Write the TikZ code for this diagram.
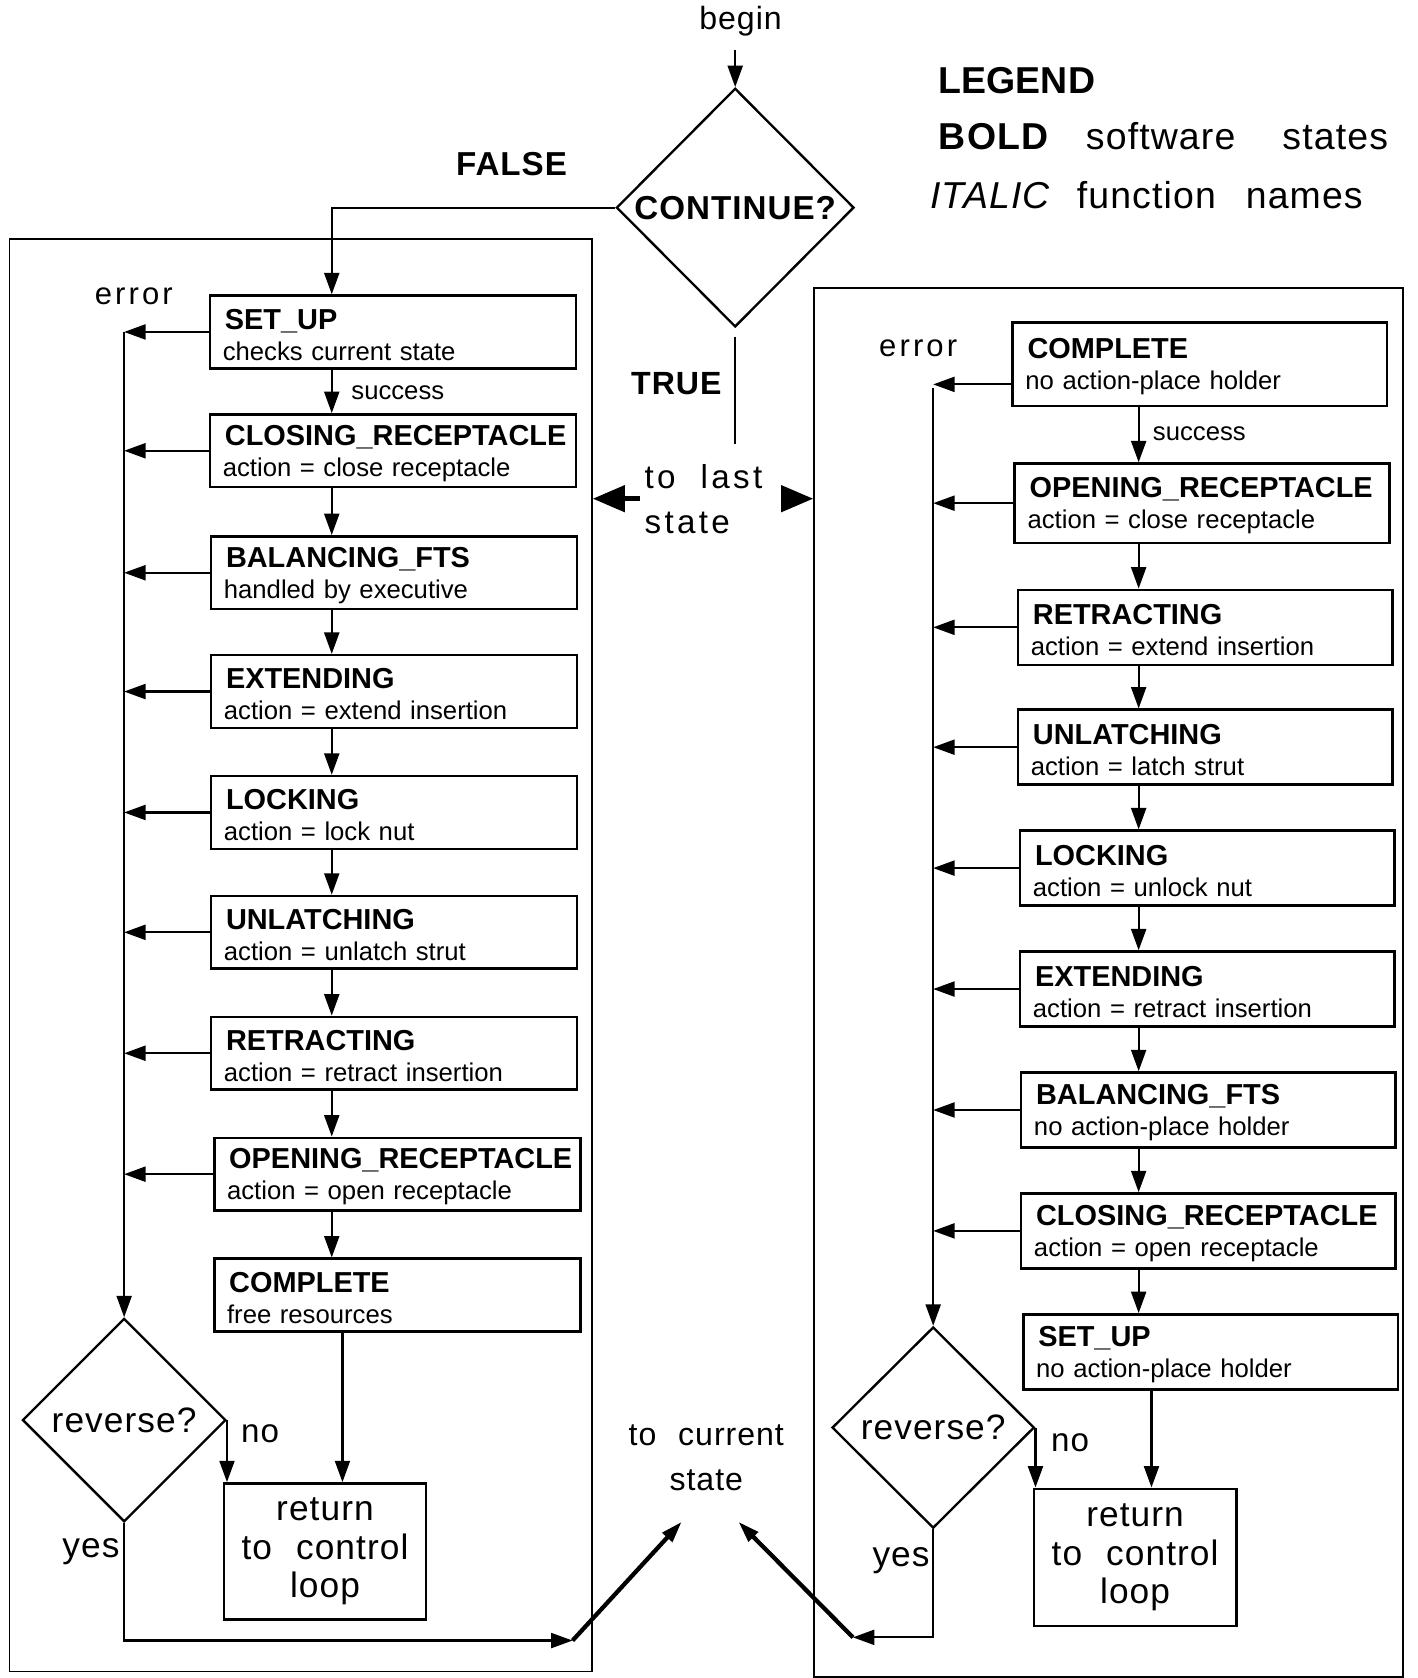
\documentclass[tikz,border=0pt]{standalone}
\usepackage{fontspec}
\setmainfont{Liberation Sans}[WordSpace=2.2]
\newfontfamily\lsA{Liberation Sans}[LetterSpace=10,WordSpace=2]
\newfontfamily\lsB{Liberation Sans}[LetterSpace=3,WordSpace=2.2]
\usetikzlibrary{arrows.meta,shapes.geometric}
\newcommand\stbox[2]{{\fontsize{13.5}{14.5}\selectfont\bfseries\mbox{\rule{0pt}{12pt}\hspace{1pt}#1}}\\{#2}}
\tikzset{
  arr/.style={-{Triangle[length=10pt,width=7pt]}, line width=1pt},
  bigarr/.style={-{Triangle[length=15pt,width=12pt]}, line width=2.5pt},
  thk/.style={-{Triangle[length=10pt,width=6pt]}, line width=2pt},
  frame/.style={draw, line width=0.9pt, anchor=north west, inner sep=0pt},
  lbox/.style={draw, line width=1.2pt, anchor=north west, minimum width=171pt,
     minimum height=34pt, text width=159pt, inner xsep=6pt, inner ysep=0pt,
     align=left, font=\fontsize{12}{14.5}\selectfont},
  rbox/.style={lbox, minimum width=175pt, minimum height=35pt, text width=163pt},
  dia/.style={draw, diamond, line width=1.1pt, inner sep=0pt},
  retbox/.style={draw, line width=1.2pt, anchor=north west, minimum width=94.5pt,
     minimum height=63.5pt, align=center, font=\lsB\fontsize{16.5}{18}\selectfont},
  lab/.style={inner sep=1pt, font=\lsB\fontsize{15.5}{18}\selectfont},
  blab/.style={inner sep=1pt, font=\lsB\fontsize{15.5}{18}\selectfont\bfseries},
  errlab/.style={inner sep=1pt, font=\lsA\fontsize{14.5}{18}\selectfont},
  suclab/.style={inner sep=1pt, anchor=west, font=\fontsize{12}{14}\selectfont},
}
\begin{document}
\begin{tikzpicture}[x=0.5pt,y=-0.5pt]
\useasboundingbox (0,0) rectangle (1325,1568);

% frames
\node[frame, minimum width=272pt, minimum height=669.5pt] (lframe) at (8,222) {};
\node[frame, minimum width=275pt, minimum height=649pt] (rframe) at (760,268) {};

% top decision
\node[lab, font=\lsB\fontsize{15}{18}\selectfont] (begin) at (692,20) {begin};
\node[dia, minimum width=111pt, minimum height=111.5pt,
  label={[blab]center:CONTINUE?}] (cont) at (687,194) {};
\draw[arr, shorten <=5pt] (begin.south -| cont.north) -- (cont.north);
\node[blab] (false) at (478,153) {FALSE};
\node[blab, font=\lsB\fontsize{15}{18}\selectfont\bfseries] (true) at (632,358) {TRUE};
\coordinate (tEnd) at (687,415);
\draw[line width=1pt, shorten <=4pt] (cont.south) -- (tEnd);

% legend
\node[anchor=west, inner sep=0pt, font=\bfseries\fontsize{17.5}{20}\selectfont] (leg) at (877,75) {LEGEND};
\node[anchor=west, inner sep=0pt, font=\lsB\fontsize{17.5}{20}\selectfont] (leg1) at (877,127)
  {\textbf{BOLD}\hspace{17pt}software\hspace{22pt}states};
\node[anchor=west, inner sep=0pt, font=\lsB\fontsize{17.5}{20}\selectfont] (leg2) at (869,182)
  {\textit{ITALIC}\hspace{12pt}function\hspace{14pt}names};

% to last state
\node[anchor=west, inner sep=2pt, align=left, font=\lsA\fontsize{15.5}{21}\selectfont] (last) at (598,466) {to last\\state};
\draw[bigarr] (last.west) -- (last.west -| lframe.east);
\draw[bigarr, shorten <=8pt] (last.east) -- (last.east -| rframe.west);

% ---------------- left column ----------------
\node[lbox] (L1) at (195,275) {\stbox{SET\_UP}{checks current state}};
\node[lbox] (L2) at (195,386) {\stbox{CLOSING\_RECEPTACLE}{action = close receptacle}};
\node[lbox] (L3) at (196,500) {\stbox{BALANCING\_FTS}{handled by executive}};
\node[lbox] (L4) at (196,611) {\stbox{EXTENDING}{action = extend insertion}};
\node[lbox] (L5) at (196,724) {\stbox{LOCKING}{action = lock nut}};
\node[lbox] (L6) at (196,836) {\stbox{UNLATCHING}{action = unlatch strut}};
\node[lbox] (L7) at (196,949) {\stbox{RETRACTING}{action = retract insertion}};
\node[lbox] (L8) at (199,1062) {\stbox{OPENING\_RECEPTACLE}{action = open receptacle}};
\node[lbox] (L9) at (199,1175) {\stbox{COMPLETE}{free resources}};

\coordinate (lx) at (310,0);
\coordinate (lx2) at (320,0);
\coordinate (errL) at (116,0);
\draw[arr] (cont.west) -| (L1.north -| lx);
\foreach \a/\b in {L1/L2,L2/L3,L3/L4,L4/L5,L5/L6,L6/L7,L7/L8,L8/L9}
  {\draw[arr] (\a.south -| lx) -- (\b.north -| lx);}
\foreach \b in {L1,L2,L3,L4,L5,L6,L7,L8}
  {\draw[arr] (\b.west) -- (\b.west -| errL);}
\node[errlab] (errorL) at (125,277) {error};
\node[suclab] (succL) at (326,367) {success};

\node[dia, minimum width=95pt, minimum height=95pt,
  label={[lab, font=\lsB\fontsize{16.5}{18}\selectfont]center:reverse?}] (revL) at (116,1327) {};
\draw[arr] (L1.west -| errL) -- (revL.north);
\node[retbox] (retL) at (208,1385) {return\\to control\\loop};
\draw[arr] (revL.east) -- (revL.east |- retL.north);
\draw[arr] (L9.south -| lx2) -- (retL.north -| lx2);
\node[lab] (noL) at (243,1340) {no};
\node[lab, font=\lsB\fontsize{16.5}{18}\selectfont] (yesL) at (85,1450) {yes};

% to current state
\node[align=center, inner sep=1pt, font=\lsB\fontsize{15}{21}\selectfont] (cur) at (660,1362) {to current\\state};
\coordinate (ymL) at (535,1533);
\coordinate (curL) at (637,1422);
\draw[arr] (revL.south) |- (ymL);
\draw[thk] (ymL) -- (curL);

% ---------------- right column ----------------
\node[rbox, minimum height=39pt] (R1) at (945,300) {\stbox{COMPLETE}{no action-place holder}};
\node[rbox, minimum height=37pt] (R2) at (947,432) {\stbox{OPENING\_RECEPTACLE}{action = close receptacle}};
\node[rbox] (R3) at (950,550) {\stbox{RETRACTING}{action = extend insertion}};
\node[rbox] (R4) at (950,662) {\stbox{UNLATCHING}{action = latch strut}};
\node[rbox] (R5) at (952,775) {\stbox{LOCKING}{action = unlock nut}};
\node[rbox] (R6) at (952,888) {\stbox{EXTENDING}{action = retract insertion}};
\node[rbox] (R7) at (953,1001) {\stbox{BALANCING\_FTS}{no action-place holder}};
\node[rbox] (R8) at (953,1114) {\stbox{CLOSING\_RECEPTACLE}{action = open receptacle}};
\node[rbox] (R9) at (955,1227) {\stbox{SET\_UP}{no action-place holder}};

\coordinate (rx) at (1064,0);
\coordinate (rx2) at (1076,0);
\coordinate (errR) at (872,0);
\foreach \a/\b in {R1/R2,R2/R3,R3/R4,R4/R5,R5/R6,R6/R7,R7/R8,R8/R9}
  {\draw[arr] (\a.south -| rx) -- (\b.north -| rx);}
\draw[arr] ([yshift=-9.5pt]R1.west) -- ([yshift=-9.5pt]R1.west -| errR);
\foreach \b in {R2,R3,R4,R5,R6,R7,R8}
  {\draw[arr] (\b.west) -- (\b.west -| errR);}
\node[errlab] (errorR) at (858,325) {error};
\node[suclab] (succR) at (1075,405) {success};

\node[dia, minimum width=94.5pt, minimum height=94pt,
  label={[lab, font=\lsB\fontsize{16.5}{18}\selectfont]center:reverse?}] (revR) at (872,1334) {};
\draw[arr] ([yshift=-11pt]R1.west -| errR) -- (revR.north);
\node[retbox, minimum height=64pt] (retR) at (965,1390) {return\\to control\\loop};
\draw[arr] (revR.east) -- (revR.east |- retR.north);
\draw[arr] (R9.south -| rx2) -- (retR.north -| rx2);
\node[lab] (noR) at (1000,1348) {no};
\node[lab, font=\lsB\fontsize{16.5}{18}\selectfont] (yesR) at (842,1458) {yes};

\coordinate (ymR) at (797,1530);
\coordinate (curR) at (690,1422);
\draw[arr] (revR.south) |- (ymR);
\draw[thk] (ymR) -- (curR);
\end{tikzpicture}
\end{document}
